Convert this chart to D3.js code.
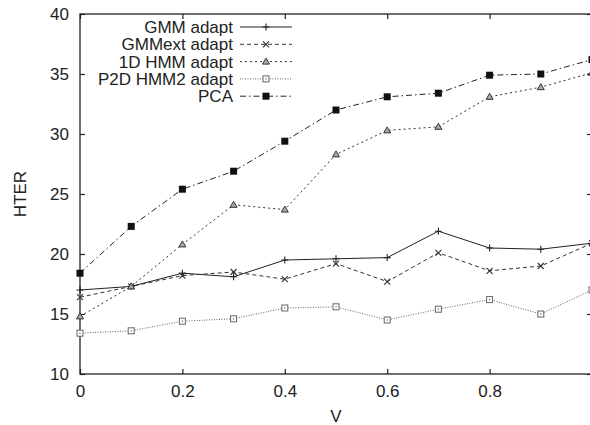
<!DOCTYPE html>
<html>
<head>
<meta charset="utf-8">
<script src="https://cdn.jsdelivr.net/npm/d3@7"></script>
<style>
  body { margin: 0; background: #fff; }
  svg { display: block; font-family: "Liberation Sans", Arial, sans-serif; }
</style>
</head>
<body>
<svg id="chart" width="590" height="425"></svg>
<script>
// values
const vValues = [0, 0.1, 0.2, 0.3, 0.4, 0.5, 0.6, 0.7, 0.8, 0.9, 1.0];
const gmmAdapt = [17.0, 17.3, 18.4, 18.1, 19.5, 19.6, 19.7, 21.9, 20.5, 20.4, 20.9];
const gmmExtAdapt = [16.4, 17.3, 18.2, 18.5, 17.9, 19.2, 17.7, 20.1, 18.6, 19.0, 20.9];
const hmm1dAdapt = [14.8, 17.3, 20.8, 24.1, 23.7, 28.3, 30.3, 30.6, 33.1, 33.9, 35.1];
const p2dHmm2Adapt = [13.4, 13.6, 14.4, 14.6, 15.5, 15.6, 14.5, 15.4, 16.2, 15.0, 17.0];
const pca = [18.4, 22.3, 25.4, 26.9, 29.4, 32.0, 33.1, 33.4, 34.9, 35.0, 36.2];

const seriesNames = ['GMM adapt', 'GMMext adapt', '1D HMM adapt', 'P2D HMM2 adapt', 'PCA'];
const xTicks = [0, 0.2, 0.4, 0.6, 0.8];
const yTicks = [10, 15, 20, 25, 30, 35, 40];

const series = [
  { name: seriesNames[0], values: gmmAdapt, dash: null, color: '#222', marker: 'plus' },
  { name: seriesNames[1], values: gmmExtAdapt, dash: '4,3', color: '#333', marker: 'cross' },
  { name: seriesNames[2], values: hmm1dAdapt, dash: '2,3', color: '#333', marker: 'triangle' },
  { name: seriesNames[3], values: p2dHmm2Adapt, dash: '1,1.5', color: '#666', marker: 'square' },
  { name: seriesNames[4], values: pca, dash: '6,3,1.5,3', color: '#222', marker: 'filled' },
];

var svg = d3.select('#chart');
var plotLeft = 80, plotRight = 592, plotTop = 14, plotBottom = 374;

var x = d3.scaleLinear().domain([0, 1]).range([plotLeft, plotRight]);
var y = d3.scaleLinear().domain([10, 40]).range([plotBottom, plotTop]);

// frame
svg.append('rect')
  .attr('x', plotLeft).attr('y', plotTop)
  .attr('width', plotRight - plotLeft).attr('height', plotBottom - plotTop)
  .attr('fill', 'none').attr('stroke', '#222').attr('stroke-width', 1.3);

// axes with inward ticks
var tickLen = 5;
var xAxis = svg.append('g').attr('transform', 'translate(0,' + plotBottom + ')')
  .call(d3.axisBottom(x).tickValues(xTicks).tickSize(-tickLen).tickPadding(11)
    .tickFormat(function (d) { return d === 0 ? '0' : d3.format('.1f')(d); }));
var xAxisTop = svg.append('g').attr('transform', 'translate(0,' + plotTop + ')')
  .call(d3.axisTop(x).tickValues(xTicks).tickSize(-tickLen).tickFormat(''));
var yAxis = svg.append('g').attr('transform', 'translate(' + plotLeft + ',0)')
  .call(d3.axisLeft(y).tickValues(yTicks).tickSize(-tickLen).tickPadding(11));
var yAxisRight = svg.append('g').attr('transform', 'translate(' + plotRight + ',0)')
  .call(d3.axisRight(y).tickValues(yTicks).tickSize(-tickLen).tickFormat(''));

[xAxis, xAxisTop, yAxis, yAxisRight].forEach(function (a) {
  a.select('.domain').remove();
  a.selectAll('line').attr('stroke', '#222').attr('stroke-width', 1.2);
  a.selectAll('text').attr('fill', '#222').style('font-size', '17px')
    .style('font-family', '"Liberation Sans", Arial, sans-serif');
});

// axis titles
svg.append('text')
  .attr('x', x(0.5)).attr('y', 422)
  .attr('text-anchor', 'middle').attr('fill', '#222')
  .style('font-size', '17px').text('V');
svg.append('text')
  .attr('transform', 'translate(26,' + y(25) + ') rotate(-90)')
  .attr('text-anchor', 'middle').attr('fill', '#222')
  .style('font-size', '17px').text('HTER');

function drawMarker(g, type, color) {
  if (type === 'plus') {
    g.append('path').attr('d', 'M-3.5,0H3.5M0,-3.5V3.5')
      .attr('stroke', color).attr('stroke-width', 1.1).attr('fill', 'none');
  } else if (type === 'cross') {
    g.append('path').attr('d', 'M-3,-3L3,3M-3,3L3,-3')
      .attr('stroke', color).attr('stroke-width', 1.1).attr('fill', 'none');
  } else if (type === 'triangle') {
    g.append('path').attr('d', 'M0,-3.5L3.5,2.5H-3.5Z')
      .attr('stroke', color).attr('stroke-width', 1).attr('fill', '#aaa');
  } else if (type === 'square') {
    g.append('rect').attr('x', -3).attr('y', -3).attr('width', 6).attr('height', 6)
      .attr('stroke', color).attr('stroke-width', 1).attr('fill', '#fff');
    g.append('rect').attr('x', -0.6).attr('y', -0.6).attr('width', 1.2).attr('height', 1.2)
      .attr('fill', color);
  } else if (type === 'filled') {
    g.append('rect').attr('x', -3.5).attr('y', -3.5).attr('width', 7).attr('height', 7)
      .attr('fill', '#111');
  }
}

var line = d3.line()
  .x(function (d, i) { return x(vValues[i]); })
  .y(function (d) { return y(d); });

var plot = svg.append('g');
series.forEach(function (s) {
  plot.append('path')
    .datum(s.values)
    .attr('d', line)
    .attr('fill', 'none')
    .attr('stroke', s.color)
    .attr('stroke-width', 1)
    .attr('stroke-dasharray', s.dash);
  s.values.forEach(function (v, i) {
    var g = plot.append('g').attr('transform', 'translate(' + x(vValues[i]) + ',' + y(v) + ')');
    drawMarker(g, s.marker, s.color);
  });
});

// legend
var legend = svg.append('g');
var legendTextX = 233, legendY0 = 27, legendStep = 17.3;
series.forEach(function (s, i) {
  var ly = legendY0 + i * legendStep;
  legend.append('text')
    .attr('x', legendTextX).attr('y', ly)
    .attr('dy', '0.35em')
    .attr('text-anchor', 'end').attr('fill', '#222')
    .style('font-size', '17px').text(s.name);
  legend.append('line')
    .attr('x1', 240).attr('x2', 292).attr('y1', ly).attr('y2', ly)
    .attr('stroke', s.color).attr('stroke-width', 1)
    .attr('stroke-dasharray', s.dash);
  var g = legend.append('g').attr('transform', 'translate(266,' + ly + ')');
  drawMarker(g, s.marker, s.color);
});
</script>
</body>
</html>
